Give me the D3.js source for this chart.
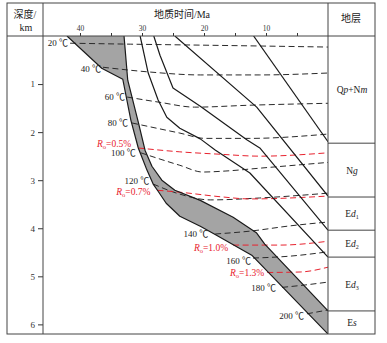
<!DOCTYPE html>
<html><head><meta charset="utf-8">
<script src="https://cdn.jsdelivr.net/npm/d3@7"></script>
<style>
html,body{margin:0;padding:0;background:#fff;}
svg{display:block;}
text{font-family:"Liberation Serif","Times New Roman","Noto Sans CJK SC",serif;fill:#222;}
</style></head><body>
<svg id="chart" width="387" height="343"></svg>
<script>
// ---------------- data ----------------
const timeTicks = [5, 10, 15, 20, 25, 30, 35, 40];
const timeTickLabels = [10, 20, 30, 40];
const depthTicks = [1, 2, 3, 4, 5, 6];
const depthMax = 6.2;

const strataNames = [
  [["Q", ""], ["p", "i"], ["+N", ""], ["m", "i"]],
  [["N", ""], ["g", "i"]],
  [["E", ""], ["d", "i"], ["1", "sub"]],
  [["E", ""], ["d", "i"], ["2", "sub"]],
  [["E", ""], ["d", "i"], ["3", "sub"]],
  [["E", ""], ["s", "i"]]
];
const strataTops = [0, 2.23, 3.35, 4.04, 4.60, 5.72];

// burial curves: [age Ma, depth km]
const esBase  = [[42.1,0],[36.5,0.67],[33.1,0.90],[31.8,1.75],[30.6,2.33],[30.2,2.46],[29.2,2.79],[28.2,3.08],[27.4,3.23],[26.1,3.48],[23.9,3.75],[20.6,3.96],[18.2,4.13],[12.3,4.56],[0,6.2]];
const ed3Base = [[32.9,0],[32.3,0.92],[30.6,1.79],[29.5,2.38],[28.4,2.71],[26.8,3.0],[24.7,3.21],[20.6,3.42],[15.3,3.77],[11.5,4.10],[10.2,4.33],[0,5.72]];
const ed2Base = [[30.3,0],[29.0,0.77],[27.4,1.33],[26.0,1.69],[23.9,1.92],[20.6,2.14],[18.2,2.37],[12.6,2.85],[0,4.60]];
const ed1Base = [[28.1,0],[27.1,0.40],[25.0,1.08],[20.6,1.46],[13.1,2.16],[11.0,2.33],[0,4.04]];
const ngBase  = [[24.7,0],[11.5,1.48],[0,3.33]];
const nmBase  = [[12.0,0],[0,2.2]];

// isotherms
const isoLabels = ["20", "40", "60", "80", "100", "120", "140", "160", "180", "200"];
const iso20  = [[41.6,0.15],[31.9,0.17],[20.6,0.19],[10,0.21],[0,0.23]];
const iso40  = [[36.3,0.65],[28.7,0.75],[20.6,0.81],[11.0,0.81],[0,0.77]];
const iso60  = [[32.4,1.27],[27.1,1.38],[21.5,1.48],[12.6,1.44],[0,1.40]];
const iso80  = [[31.6,1.81],[23.9,2.02],[19.8,2.13],[12.6,2.13],[0,2.04]];
const iso100 = [[30.2,2.43],[23.9,2.69],[20.2,2.83],[16.6,2.81],[11.0,2.75],[0,2.63]];
const iso120 = [[28.2,3.08],[23.9,3.29],[19.0,3.41],[11.0,3.37],[0,3.27]];
const iso140 = [[18.2,4.12],[12.6,4.06],[6.1,3.95],[0,3.87]];
const iso160 = [[12.1,4.62],[6.1,4.58],[0,4.49]];
const iso180 = [[7.4,5.23],[3.7,5.18],[0,5.12]];
const iso200 = [[3.4,5.78],[0,5.70]];

// vitrinite reflectance
const roLabels = ["0.5", "0.7", "1.0", "1.3"];
const ro05 = [[30.6,2.33],[23.9,2.41],[17.4,2.46],[11.0,2.50],[0,2.43]];
const ro07 = [[27.5,3.21],[23.9,3.25],[16.9,3.35],[12.6,3.39],[0,3.33]];
const ro10 = [[15.3,4.35],[7.7,4.35],[0,4.27]];
const ro13 = [[9.8,4.92],[4.5,4.91],[0,4.81]];

// ---------------- layout ----------------
const svg = d3.select("#chart");
const frame = {left: 7, right: 375, top: 3, bottom: 334, col1: 43, col2: 328};
const x = d3.scaleLinear().domain([0, 40]).range([328, 80]);
const y = d3.scaleLinear().domain([0, depthMax]).range([36, 334]);
const line = d3.line().x(d => x(d[0])).y(d => y(d[1]));
const smooth = d3.line().x(d => x(d[0])).y(d => y(d[1])).curve(d3.curveMonotoneX);

// label nudges (layout only)
const isoNudge = {"20":[-2,1],"40":[-2,3],"60":[-2,1],"80":[-4,1],"100":[-5,1],"120":[-4,-2],"140":[-7,1],"160":[-2,4],"180":[-6,2],"200":[-3,3]};
const roNudge = {"0.5":[-7,-4],"0.7":[-7,2],"1.0":[-5,3],"1.3":[-3,1]};

svg.append("defs").append("clipPath").attr("id", "plot")
  .append("rect").attr("x", frame.col1).attr("y", y(0))
  .attr("width", frame.col2 - frame.col1).attr("height", y(depthMax) - y(0));

const plot = svg.append("g").attr("clip-path", "url(#plot)");

// gray Es band
const band = [esBase[0], ...ed3Base, ...esBase.slice().reverse()];
plot.append("path").attr("d", line(band)).attr("fill", "#a4a4a4").attr("stroke", "none");

// isotherms (black dashed)
const isoSeries = [iso20, iso40, iso60, iso80, iso100, iso120, iso140, iso160, iso180, iso200];
isoSeries.forEach(s => {
  plot.append("path").attr("d", smooth(s)).attr("fill", "none")
    .attr("stroke", "#2a2a2a").attr("stroke-width", 1).attr("stroke-dasharray", "6,3.5");
});
// Ro lines (red dashed)
const roSeries = [ro05, ro07, ro10, ro13];
roSeries.forEach(s => {
  plot.append("path").attr("d", smooth(s)).attr("fill", "none")
    .attr("stroke", "#e8222e").attr("stroke-width", 1).attr("stroke-dasharray", "6,3.5");
});

// burial lines
[esBase, ed3Base, ed2Base, ed1Base, ngBase, nmBase].forEach(s => {
  plot.append("path").attr("d", line(s)).attr("fill", "none")
    .attr("stroke", "#1a1a1a").attr("stroke-width", 1.2).attr("stroke-linejoin", "round");
});

// isotherm labels
isoSeries.forEach((s, i) => {
  const k = isoLabels[i], n = isoNudge[k];
  svg.append("text").attr("x", x(s[0][0]) + n[0]).attr("y", y(s[0][1]) + n[1])
    .attr("text-anchor", "end").attr("dominant-baseline", "middle")
    .attr("font-size", 9).text(k + " \u2103");
});
roSeries.forEach((s, i) => {
  const k = roLabels[i], n = roNudge[k];
  const t = svg.append("text").attr("x", x(s[0][0]) + n[0]).attr("y", y(s[0][1]) + n[1] + 3)
    .attr("text-anchor", "end").attr("font-size", 9.5).style("fill", "#e8222e");
  t.append("tspan").attr("font-style", "italic").style("fill", "#e8222e").text("R");
  t.append("tspan").attr("font-size", 6.5).attr("dy", 2).style("fill", "#e8222e").text("o");
  t.append("tspan").attr("dy", -2).style("fill", "#e8222e").text("=" + k + "%");
});

// axes
const xAxis = d3.axisTop(x).tickValues(timeTicks).tickSize(3).tickPadding(2)
  .tickFormat(d => timeTickLabels.includes(d) ? d : "");
const gx = svg.append("g").attr("transform", `translate(0,${y(0)})`).call(xAxis);
gx.select(".domain").remove();
gx.selectAll("line").attr("stroke", "#333");
gx.selectAll("text").attr("font-size", 7.5).attr("font-family", "Liberation Serif").style("fill", "#333");

const yAxis = d3.axisLeft(y).tickValues(depthTicks).tickSize(5).tickPadding(3).tickFormat(d3.format("d"));
const gy = svg.append("g").attr("transform", `translate(${frame.col1},0)`).call(yAxis);
gy.select(".domain").remove();
gy.selectAll("line").attr("stroke", "#333");
gy.selectAll("text").attr("font-size", 9).attr("font-family", "Liberation Serif").style("fill", "#333");

// frame and grid
const fr = svg.append("g").attr("fill", "none").attr("stroke", "#444").attr("stroke-width", 1);
fr.append("rect").attr("x", frame.left).attr("y", frame.top)
  .attr("width", frame.right - frame.left).attr("height", frame.bottom - frame.top);
fr.append("line").attr("x1", frame.left).attr("x2", frame.right).attr("y1", y(0)).attr("y2", y(0));
fr.append("line").attr("x1", frame.col1).attr("x2", frame.col1).attr("y1", frame.top).attr("y2", frame.bottom);
fr.append("line").attr("x1", frame.col2).attr("x2", frame.col2).attr("y1", frame.top).attr("y2", frame.bottom);
strataTops.slice(1).forEach(d => {
  fr.append("line").attr("x1", frame.col2).attr("x2", frame.right).attr("y1", y(d)).attr("y2", y(d));
});

// strata labels
const colMid = (frame.col2 + frame.right) / 2 + 0.5;
strataNames.forEach((parts, i) => {
  const top = strataTops[i], bot = i + 1 < strataTops.length ? strataTops[i + 1] : depthMax;
  const t = svg.append("text").attr("x", colMid).attr("y", (y(top) + y(bot)) / 2 + 3.5)
    .attr("text-anchor", "middle").attr("font-size", 9.5);
  parts.forEach(p => {
    const ts = t.append("tspan").text(p[0]);
    if (p[1] === "i") ts.attr("font-style", "italic");
    if (p[1] === "sub") ts.attr("font-size", 6).attr("dy", 2);
  });
});

// header text
svg.append("text").attr("x", 25).attr("y", 18).attr("text-anchor", "middle").attr("font-size", 10).text("深度/");
svg.append("text").attr("x", 26).attr("y", 31).attr("text-anchor", "middle").attr("font-size", 10).text("km");
svg.append("text").attr("x", 182).attr("y", 18).attr("text-anchor", "middle").attr("font-size", 10).text("地质时间/Ma");
svg.append("text").attr("x", 351).attr("y", 22).attr("text-anchor", "middle").attr("font-size", 10).text("地层");
</script>
</body></html>
